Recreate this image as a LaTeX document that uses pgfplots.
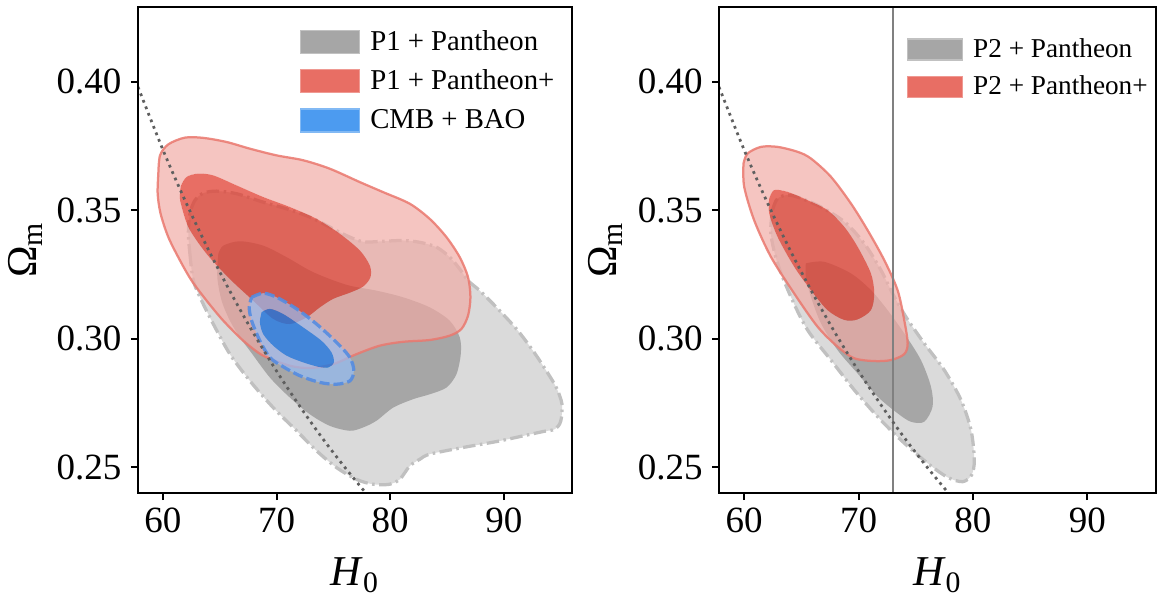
\documentclass[border=0pt]{standalone}
\usepackage{fontspec}
\setmainfont{Liberation Serif}
\usepackage{pgfplots}
\pgfplotsset{compat=1.18}
\definecolor{grayout}{RGB}{218,218,218}
\definecolor{grayin}{RGB}{166,166,166}
\definecolor{grayline}{RGB}{192,192,192}
\definecolor{redout}{RGB}{240,170,164}
\definecolor{redin}{RGB}{224,62,48}
\definecolor{redline}{RGB}{234,120,110}
\definecolor{blueout}{RGB}{150,190,245}
\definecolor{bluein}{RGB}{16,122,235}
\definecolor{blueline}{RGB}{85,140,225}
\definecolor{leggray}{RGB}{166,166,166}
\definecolor{legred}{RGB}{232,110,100}
\definecolor{legblue}{RGB}{76,155,240}
\definecolor{dotc}{RGB}{95,95,95}
\pgfplotsset{myax/.style={
  scale only axis, height=194.4pt,
  xmin=57.8, xmax=96, ymin=0.24, ymax=0.429,
  xtick={60,70,80,90}, ytick={0.25,0.30,0.35,0.40},
  tick align=outside, xtick pos=left, ytick pos=left,
  major tick length=2.8pt,
  every tick/.style={black, line width=0.8pt},
  axis line style={line width=0.8pt},
  axis on top,
  /pgf/number format/assume math mode=true,
  ticklabel style={font=\fontsize{14.8}{16}\selectfont},
  yticklabel style={/pgf/number format/fixed, /pgf/number format/fixed zerofill, /pgf/number format/precision=2, inner xsep=3.6pt},
  xticklabel style={inner ysep=2.8pt},
  xlabel={\textit{H}\textsubscript{0}}, ylabel={Ω\textsubscript{m}},
  label style={font=\fontsize{17}{20}\selectfont},
  xlabel style={at={(axis description cs:0.5,-0.191)}, anchor=base},
  ylabel style={at={(axis description cs:-0.235,0.5)}, anchor=base},
  legend cell align=left,
  legend style={draw=none, fill=none, anchor=north west, inner sep=0pt, outer sep=0pt,
    font=\fontsize{11.5}{13}\selectfont, row sep=6pt, nodes={inner sep=0pt},
    /tikz/every odd column/.append style={column sep=4pt}},
  unbounded coords=jump,
}}
\begin{document}
\begin{tikzpicture}
\useasboundingbox (-55.2pt,-41.2pt) rectangle (408pt,197.2pt);
% ---------------- left panel ----------------
\begin{axis}[myax, width=173.6pt,
  legend style={at={(axis description cs:0.3733,0.9527)}},
  legend image code/.code={\draw[#1, line width=0.5pt] (0pt,-4.6pt) rectangle (23.6pt,4.6pt);}]
\addlegendimage{fill=leggray, draw=leggray!70!white}
\addlegendentry{P1 + Pantheon}
\addlegendimage{fill=legred, draw=legred!70!white}
\addlegendentry{P1 + Pantheon+}
\addlegendimage{fill=legblue, draw=legblue!70!white}
\addlegendentry{CMB + BAO}
% gray outer
\addplot[forget plot, fill=grayout, draw=none, smooth] coordinates {(62.37,0.3330) (62.67,0.3226) (63.40,0.3148) (64.43,0.3057) (65.89,0.2940) (67.65,0.2836) (69.70,0.2732) (71.76,0.2642) (73.52,0.2564) (75.27,0.2499) (77.03,0.2453) (78.50,0.2434) (79.96,0.2434) (80.84,0.2453) (81.72,0.2505) (82.60,0.2531) (83.48,0.2551) (86.41,0.2577) (89.35,0.2600) (91.69,0.2622) (93.45,0.2639) (94.48,0.2648) (95.00,0.2678) (95.12,0.2745) (94.62,0.2810) (93.74,0.2875) (92.57,0.2953) (91.11,0.3038) (89.35,0.3122) (87.88,0.3187) (86.85,0.3226) (86.12,0.3271) (85.24,0.3317) (84.07,0.3356) (82.60,0.3375) (81.14,0.3382) (79.38,0.3379) (77.62,0.3377) (76.15,0.3401) (74.69,0.3434) (72.93,0.3473) (70.88,0.3505) (68.82,0.3531) (66.48,0.3564) (64.72,0.3574) (63.55,0.3566) (62.81,0.3538) (62.37,0.3486) (62.23,0.3408) (62.37,0.3330)};
% gray inner
\addplot[forget plot, fill=grayin, draw=none, smooth] coordinates {(64.87,0.3330) (64.78,0.3239) (65.16,0.3148) (65.89,0.3070) (66.77,0.3005) (67.65,0.2953) (69.41,0.2849) (71.17,0.2771) (72.93,0.2706) (74.69,0.2661) (76.45,0.2642) (77.62,0.2655) (78.79,0.2681) (80.26,0.2732) (82.02,0.2765) (83.48,0.2784) (84.95,0.2810) (85.83,0.2862) (86.21,0.2940) (86.12,0.3005) (85.24,0.3070) (83.48,0.3122) (81.14,0.3161) (78.79,0.3187) (76.45,0.3206) (74.69,0.3232) (72.93,0.3265) (70.88,0.3317) (68.82,0.3362) (66.77,0.3379) (65.31,0.3362) (64.87,0.3330)};
% gray outer outline
\addplot[forget plot, draw=grayline, line width=1.3pt, dash pattern=on 5pt off 1.8pt on 1pt off 1.8pt, smooth] coordinates {(62.37,0.3330) (62.67,0.3226) (63.40,0.3148) (64.43,0.3057) (65.89,0.2940) (67.65,0.2836) (69.70,0.2732) (71.76,0.2642) (73.52,0.2564) (75.27,0.2499) (77.03,0.2453) (78.50,0.2434) (79.96,0.2434) (80.84,0.2453) (81.72,0.2505) (82.60,0.2531) (83.48,0.2551) (86.41,0.2577) (89.35,0.2600) (91.69,0.2622) (93.45,0.2639) (94.48,0.2648) (95.00,0.2678) (95.12,0.2745) (94.62,0.2810) (93.74,0.2875) (92.57,0.2953) (91.11,0.3038) (89.35,0.3122) (87.88,0.3187) (86.85,0.3226) (86.12,0.3271) (85.24,0.3317) (84.07,0.3356) (82.60,0.3375) (81.14,0.3382) (79.38,0.3379) (77.62,0.3377) (76.15,0.3401) (74.69,0.3434) (72.93,0.3473) (70.88,0.3505) (68.82,0.3531) (66.48,0.3564) (64.72,0.3574) (63.55,0.3566) (62.81,0.3538) (62.37,0.3486) (62.23,0.3408) (62.37,0.3330)};
% red outer annulus
\addplot[forget plot, fill=redout, fill opacity=0.68, draw=none, even odd rule, smooth] coordinates {(59.59,0.3642) (59.74,0.3713) (60.47,0.3756) (61.93,0.3782) (63.55,0.3781) (65.60,0.3765) (67.65,0.3739) (70.00,0.3713) (72.34,0.3694) (74.69,0.3661) (77.33,0.3609) (79.38,0.3570) (81.72,0.3525) (83.48,0.3466) (84.95,0.3395) (86.12,0.3317) (86.85,0.3239) (87.06,0.3161) (86.85,0.3090) (86.27,0.3038) (85.24,0.3012) (83.48,0.2995) (81.14,0.2988) (79.09,0.2973) (77.03,0.2940) (74.98,0.2901) (72.93,0.2886) (71.17,0.2895) (68.82,0.2934) (67.07,0.2992) (65.31,0.3070) (63.84,0.3148) (62.52,0.3226) (61.50,0.3304) (60.47,0.3395) (59.79,0.3486) (59.53,0.3564) (59.59,0.3642)
(nan,nan)
(61.50,0.3538) (61.55,0.3590) (62.08,0.3629) (63.11,0.3642) (64.43,0.3635) (66.48,0.3596) (68.82,0.3551) (71.17,0.3512) (73.52,0.3466) (75.57,0.3408) (77.33,0.3343) (78.21,0.3284) (78.26,0.3239) (77.62,0.3203) (76.45,0.3179) (74.98,0.3155) (73.81,0.3122) (72.64,0.3083) (71.17,0.3057) (69.70,0.3077) (67.94,0.3148) (65.89,0.3232) (63.84,0.3330) (62.23,0.3434) (61.50,0.3538)};
% red inner
\addplot[forget plot, fill=redin, fill opacity=0.75, draw=none, smooth] coordinates {(61.50,0.3538) (61.55,0.3590) (62.08,0.3629) (63.11,0.3642) (64.43,0.3635) (66.48,0.3596) (68.82,0.3551) (71.17,0.3512) (73.52,0.3466) (75.57,0.3408) (77.33,0.3343) (78.21,0.3284) (78.26,0.3239) (77.62,0.3203) (76.45,0.3179) (74.98,0.3155) (73.81,0.3122) (72.64,0.3083) (71.17,0.3057) (69.70,0.3077) (67.94,0.3148) (65.89,0.3232) (63.84,0.3330) (62.23,0.3434) (61.50,0.3538)};
% red outer outline
\addplot[forget plot, draw=redline, draw opacity=0.85, line width=0.9pt, smooth] coordinates {(59.59,0.3642) (59.74,0.3713) (60.47,0.3756) (61.93,0.3782) (63.55,0.3781) (65.60,0.3765) (67.65,0.3739) (70.00,0.3713) (72.34,0.3694) (74.69,0.3661) (77.33,0.3609) (79.38,0.3570) (81.72,0.3525) (83.48,0.3466) (84.95,0.3395) (86.12,0.3317) (86.85,0.3239) (87.06,0.3161) (86.85,0.3090) (86.27,0.3038) (85.24,0.3012) (83.48,0.2995) (81.14,0.2988) (79.09,0.2973) (77.03,0.2940) (74.98,0.2901) (72.93,0.2886) (71.17,0.2895) (68.82,0.2934) (67.07,0.2992) (65.31,0.3070) (63.84,0.3148) (62.52,0.3226) (61.50,0.3304) (60.47,0.3395) (59.79,0.3486) (59.53,0.3564) (59.59,0.3642)};
% blue outer annulus
\addplot[forget plot, fill=blueout, fill opacity=0.7, draw=none, even odd rule, smooth] coordinates {(67.80,0.3161) (68.82,0.3177) (70.00,0.3161) (71.76,0.3116) (73.52,0.3057) (75.27,0.2986) (76.45,0.2927) (76.80,0.2875) (76.45,0.2836) (75.27,0.2823) (73.81,0.2830) (72.05,0.2856) (70.58,0.2891) (69.41,0.2927) (68.53,0.2992) (67.80,0.3070) (67.59,0.3122) (67.80,0.3161)
(nan,nan)
(68.68,0.3103) (69.41,0.3116) (70.58,0.3096) (72.34,0.3044) (73.95,0.2992) (74.83,0.2947) (75.04,0.2908) (74.54,0.2888) (73.66,0.2891) (72.34,0.2908) (70.88,0.2934) (69.70,0.2973) (68.82,0.3018) (68.53,0.3064) (68.68,0.3103)};
% blue inner
\addplot[forget plot, fill=bluein, fill opacity=0.75, draw=none, smooth] coordinates {(68.68,0.3103) (69.41,0.3116) (70.58,0.3096) (72.34,0.3044) (73.95,0.2992) (74.83,0.2947) (75.04,0.2908) (74.54,0.2888) (73.66,0.2891) (72.34,0.2908) (70.88,0.2934) (69.70,0.2973) (68.82,0.3018) (68.53,0.3064) (68.68,0.3103)};
% blue outline
\addplot[forget plot, draw=blueline, draw opacity=0.9, line width=1.3pt, dash pattern=on 4pt off 1.6pt, smooth] coordinates {(67.80,0.3161) (68.82,0.3177) (70.00,0.3161) (71.76,0.3116) (73.52,0.3057) (75.27,0.2986) (76.45,0.2927) (76.80,0.2875) (76.45,0.2836) (75.27,0.2823) (73.81,0.2830) (72.05,0.2856) (70.58,0.2891) (69.41,0.2927) (68.53,0.2992) (67.80,0.3070) (67.59,0.3122) (67.80,0.3161)};
% dotted degeneracy line
\addplot[forget plot, draw=dotc, line width=1.1pt, dash pattern=on 1.1pt off 1.7pt, smooth] coordinates {(57.8,0.3979) (60,0.3734) (62,0.3532) (64,0.3346) (66,0.3176) (68,0.3019) (70,0.2874) (72,0.2740) (74,0.2615) (76,0.2500) (78,0.2392)};
\end{axis}
% ---------------- right panel ----------------
\begin{axis}[myax, at={(232.4pt,0pt)}, width=174.8pt,
  legend style={at={(axis description cs:0.430,0.936)}, row sep=6pt, font=\fontsize{10.9}{12.5}\selectfont},
  legend image code/.code={\draw[#1, line width=0.5pt] (0pt,-4.2pt) rectangle (22pt,4.2pt);}]
\addlegendimage{fill=leggray, draw=leggray!70!white}
\addlegendentry{P2 + Pantheon}
\addlegendimage{fill=legred, draw=legred!70!white}
\addlegendentry{P2 + Pantheon+}
% gray outer
\addplot[forget plot, fill=grayout, draw=none, smooth] coordinates {(62.48,0.3500) (62.92,0.3545) (64.08,0.3558) (66.41,0.3519) (68.75,0.3455) (70.50,0.3370) (71.95,0.3267) (72.97,0.3176) (74.14,0.3085) (75.74,0.2982) (77.49,0.2878) (78.95,0.2762) (79.83,0.2645) (80.12,0.2528) (79.88,0.2470) (79.10,0.2444) (77.78,0.2461) (76.03,0.2516) (73.70,0.2606) (71.66,0.2697) (69.62,0.2801) (67.58,0.2917) (65.54,0.3034) (64.08,0.3163) (62.92,0.3293) (62.33,0.3409) (62.48,0.3500)};
% gray inner
\addplot[forget plot, fill=grayin, draw=none, smooth] coordinates {(65.39,0.3293) (67.00,0.3299) (69.33,0.3254) (71.08,0.3189) (72.54,0.3111) (73.99,0.3021) (75.45,0.2917) (76.33,0.2813) (76.47,0.2736) (75.74,0.2677) (74.58,0.2677) (73.41,0.2710) (71.66,0.2775) (69.91,0.2865) (68.16,0.2956) (66.71,0.3060) (65.83,0.3163) (65.39,0.3241) (65.39,0.3293)};
% gray outline
\addplot[forget plot, draw=grayline, line width=1.3pt, dash pattern=on 5pt off 1.8pt on 1pt off 1.8pt, smooth] coordinates {(62.48,0.3500) (62.92,0.3545) (64.08,0.3558) (66.41,0.3519) (68.75,0.3455) (70.50,0.3370) (71.95,0.3267) (72.97,0.3176) (74.14,0.3085) (75.74,0.2982) (77.49,0.2878) (78.95,0.2762) (79.83,0.2645) (80.12,0.2528) (79.88,0.2470) (79.10,0.2444) (77.78,0.2461) (76.03,0.2516) (73.70,0.2606) (71.66,0.2697) (69.62,0.2801) (67.58,0.2917) (65.54,0.3034) (64.08,0.3163) (62.92,0.3293) (62.33,0.3409) (62.48,0.3500)};
% red outer annulus
\addplot[forget plot, fill=redout, fill opacity=0.68, draw=none, even odd rule, smooth] coordinates {(59.94,0.3681) (60.29,0.3720) (61.46,0.3746) (62.92,0.3746) (64.66,0.3727) (65.83,0.3701) (67.58,0.3630) (69.33,0.3526) (70.79,0.3422) (72.24,0.3306) (73.41,0.3189) (73.99,0.3073) (74.29,0.2982) (73.99,0.2940) (72.83,0.2917) (71.37,0.2913) (69.62,0.2924) (68.16,0.2969) (66.41,0.3047) (64.37,0.3176) (62.33,0.3319) (60.87,0.3461) (60.00,0.3591) (59.94,0.3681)
(nan,nan)
(62.19,0.3545) (62.62,0.3578) (63.79,0.3571) (65.54,0.3539) (67.29,0.3500) (68.75,0.3435) (69.91,0.3358) (71.08,0.3254) (71.37,0.3176) (71.08,0.3111) (69.91,0.3075) (68.75,0.3073) (67.29,0.3111) (65.83,0.3189) (64.37,0.3280) (62.92,0.3396) (62.19,0.3487) (62.19,0.3545)};
% red inner
\addplot[forget plot, fill=redin, fill opacity=0.75, draw=none, smooth] coordinates {(62.19,0.3545) (62.62,0.3578) (63.79,0.3571) (65.54,0.3539) (67.29,0.3500) (68.75,0.3435) (69.91,0.3358) (71.08,0.3254) (71.37,0.3176) (71.08,0.3111) (69.91,0.3075) (68.75,0.3073) (67.29,0.3111) (65.83,0.3189) (64.37,0.3280) (62.92,0.3396) (62.19,0.3487) (62.19,0.3545)};
% red outline
\addplot[forget plot, draw=redline, draw opacity=0.85, line width=0.9pt, smooth] coordinates {(59.94,0.3681) (60.29,0.3720) (61.46,0.3746) (62.92,0.3746) (64.66,0.3727) (65.83,0.3701) (67.58,0.3630) (69.33,0.3526) (70.79,0.3422) (72.24,0.3306) (73.41,0.3189) (73.99,0.3073) (74.29,0.2982) (73.99,0.2940) (72.83,0.2917) (71.37,0.2913) (69.62,0.2924) (68.16,0.2969) (66.41,0.3047) (64.37,0.3176) (62.33,0.3319) (60.87,0.3461) (60.00,0.3591) (59.94,0.3681)};
% vertical reference line
\addplot[forget plot, draw=gray, line width=0.5pt] coordinates {(73,0.24) (73,0.429)};
% dotted line
\addplot[forget plot, draw=dotc, line width=1.1pt, dash pattern=on 1.1pt off 1.7pt, smooth] coordinates {(57.8,0.3979) (60,0.3734) (62,0.3532) (64,0.3346) (66,0.3176) (68,0.3019) (70,0.2874) (72,0.2740) (74,0.2615) (76,0.2500) (78,0.2392)};
\end{axis}
\end{tikzpicture}
\end{document}
